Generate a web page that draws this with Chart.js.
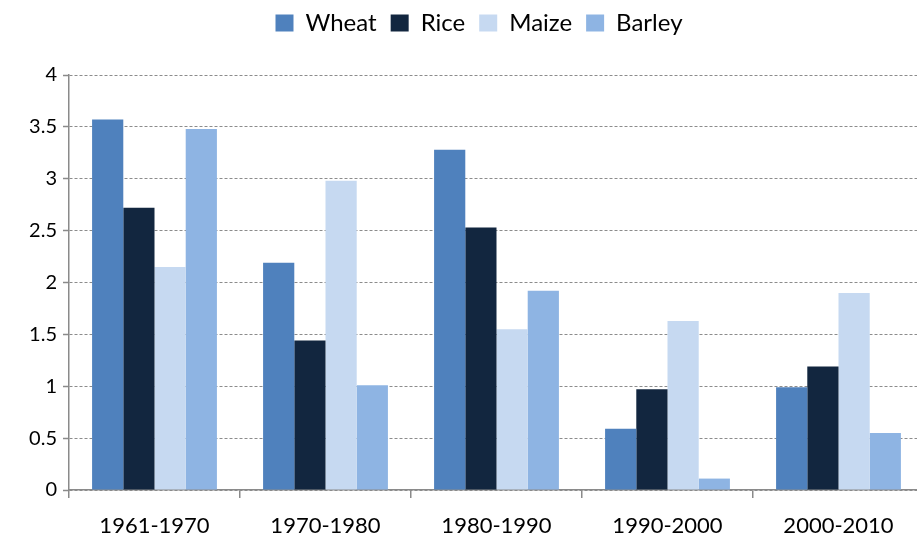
<!DOCTYPE html>
<html>
<head>
<meta charset="utf-8">
<script src="https://cdn.jsdelivr.net/npm/chart.js@4/dist/chart.umd.min.js"></script>
<style>
    html, body { margin: 0; padding: 0; background: #ffffff; overflow: hidden; }
    /* the plot runs a few px past the right edge of the window in the original */
    #wrap { width: 924px; height: 538px; position: relative; }
</style>
</head>
<body>
<div id="wrap"><canvas id="grain-chart"></canvas></div>
<script>
// --- Data ---
const periods = ["1961-1970", "1970-1980", "1980-1990", "1990-2000", "2000-2010"];
const wheat  = [3.57, 2.19, 3.28, 0.59, 0.99];
const rice   = [2.72, 1.44, 2.53, 0.97, 1.19];
const maize  = [2.15, 2.98, 1.55, 1.63, 1.90];
const barley = [3.48, 1.01, 1.92, 0.11, 0.55];
const yTicks = [0, 0.5, 1, 1.5, 2, 2.5, 3, 3.5, 4];

const seriesColors = {
    wheat: '#4f81bd',
    rice: '#12263f',
    maize: '#c6d9f1',
    barley: '#8eb4e3'
};

const axisGray = '#8a8a8a';
const fontFamily = "Lato, 'Open Sans', sans-serif";

// keep the legend row high, leave a gap down to the plot, nudge it right a bit
const legendSpacer = {
    id: 'legendSpacer',
    afterInit(chart) {
        const legend = chart.legend;
        if (!legend) return;
        const origFit = legend.fit;
        legend.fit = function () {
            origFit.call(this);
            this.height = 78;
        };
        const origDraw = legend.draw;
        legend.draw = function () {
            const c = this.ctx;
            c.save();
            c.translate(17, 0);
            origDraw.call(this);
            c.restore();
        };
    }
};

const ctx = document.getElementById('grain-chart');

new Chart(ctx, {
    type: 'bar',
    data: {
        labels: periods,
        datasets: [
            { label: 'Wheat',  data: wheat,  backgroundColor: seriesColors.wheat },
            { label: 'Rice',   data: rice,   backgroundColor: seriesColors.rice },
            { label: 'Maize',  data: maize,  backgroundColor: seriesColors.maize },
            { label: 'Barley', data: barley, backgroundColor: seriesColors.barley }
        ]
    },
    plugins: [legendSpacer],
    options: {
        responsive: true,
        maintainAspectRatio: false,
        animation: false,
        datasets: {
            bar: { categoryPercentage: 0.73, barPercentage: 1.0, borderWidth: 0 }
        },
        layout: { padding: { top: -3, right: 0, left: 0, bottom: 0 } },
        plugins: {
            tooltip: { enabled: false },
            legend: {
                position: 'top',
                labels: {
                    boxWidth: 18,
                    boxHeight: 17,
                    padding: 14,
                    color: '#000000',
                    font: { family: fontFamily, size: 24 }
                }
            }
        },
        scales: {
            x: {
                grid: {
                    display: true,
                    drawOnChartArea: false,
                    drawTicks: true,
                    tickLength: 8,
                    offset: true,
                    color: axisGray,
                    lineWidth: 1.5
                },
                border: { display: true, color: axisGray, width: 1.5 },
                ticks: {
                    color: '#000000',
                    padding: 15,
                    font: { family: fontFamily, size: 22 }
                },
                afterFit: (scale) => { scale.height = 48; }
            },
            y: {
                min: 0,
                max: 4,
                afterBuildTicks: (scale) => {
                    scale.ticks = yTicks.map(v => ({ value: v }));
                },
                grid: {
                    color: '#8c8c8c',
                    lineWidth: 1,
                    drawTicks: true,
                    tickLength: 6,
                    tickColor: axisGray,
                    tickWidth: 1.5
                },
                border: { display: true, color: axisGray, width: 1.5, dash: [3, 2] },
                ticks: {
                    color: '#000000',
                    padding: 6,
                    font: { family: fontFamily, size: 20 },
                    callback: (value) => String(value)
                },
                afterFit: (scale) => { scale.width = 69; }
            }
        }
    }
});
</script>
</body>
</html>
